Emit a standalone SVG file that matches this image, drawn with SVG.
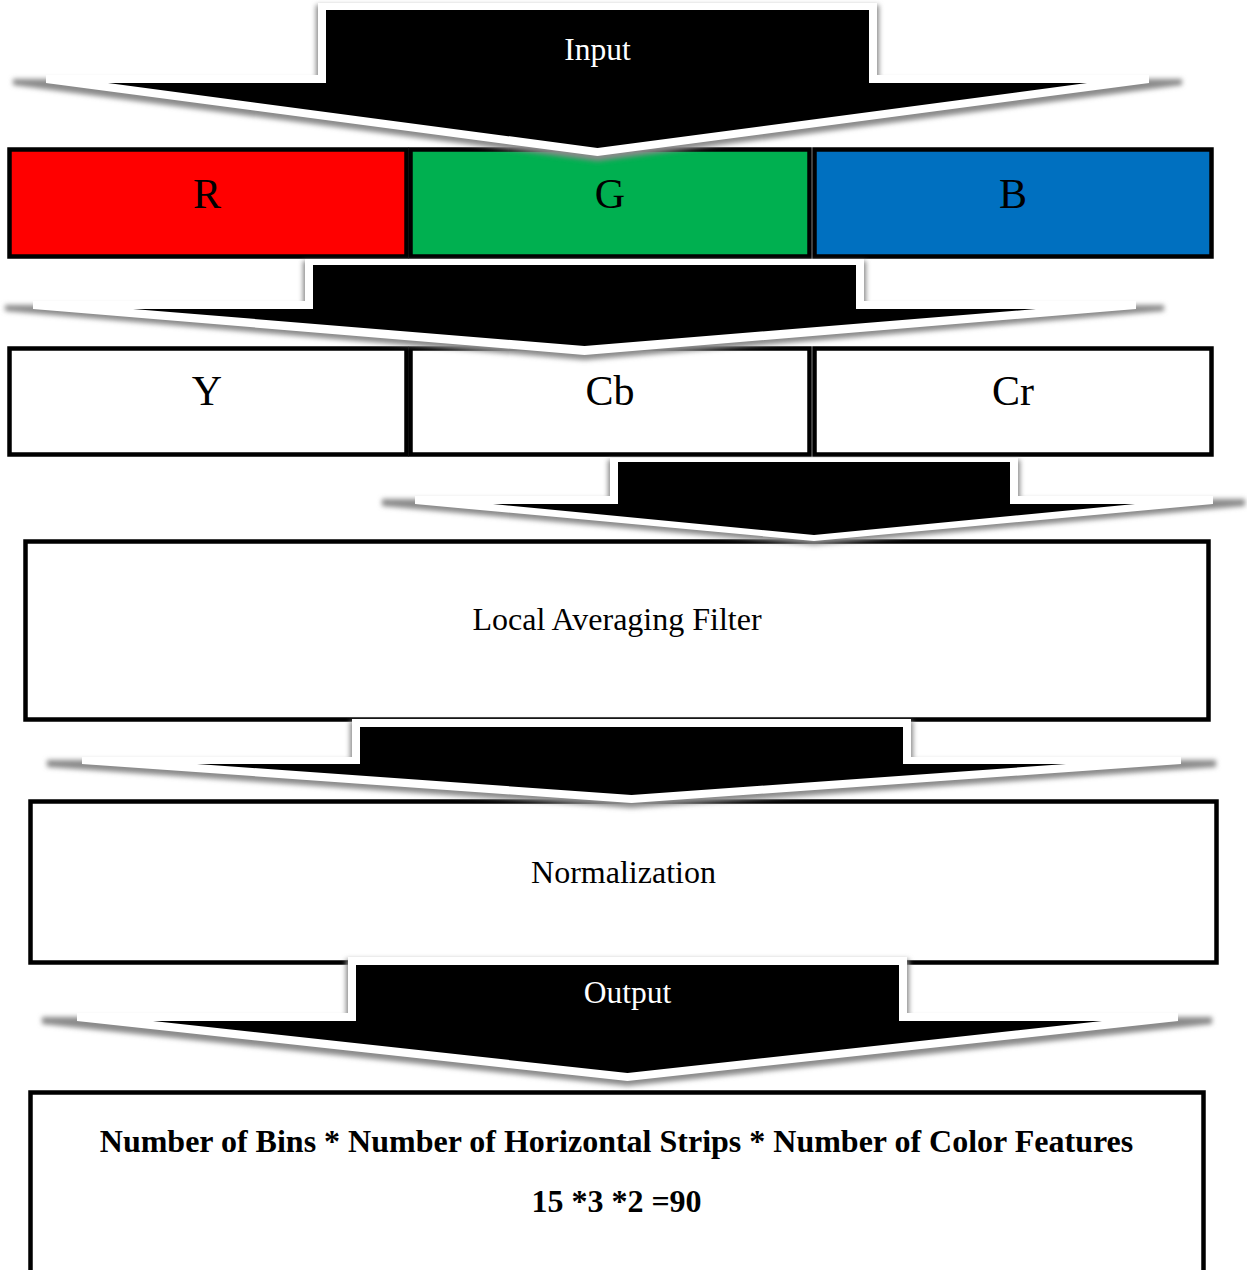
<svg xmlns="http://www.w3.org/2000/svg" width="1247" height="1270" viewBox="0 0 1247 1270">
<defs>
<style>
.box{stroke:#000;stroke-width:4.5}
.big{font-family:"Liberation Serif","Times New Roman",serif;font-size:42px;fill:#000;text-anchor:middle}
.lbl{font-family:"Liberation Serif","Times New Roman",serif;font-size:32px;fill:#000;text-anchor:middle}
.wlbl{font-family:"Liberation Serif","Times New Roman",serif;font-size:31.5px;fill:#fff;text-anchor:middle}
.bold{font-family:"Liberation Serif","Times New Roman",serif;font-size:32px;font-weight:bold;fill:#000;text-anchor:middle}
.shadow{fill:#8a8a8a;filter:url(#blur)}
.outline{fill:#fff}
.body{fill:#000}
</style>
<filter id="blur" x="-10%" y="-50%" width="120%" height="200%">
<feGaussianBlur stdDeviation="2.5"/>
</filter>
</defs>
<rect width="1247" height="1270" fill="#fff"/>

<g id="node-R"><rect class="box" x="9.5" y="149.5" width="397" height="107" fill="#FF0000"/><text class="big" x="207" y="208">R</text></g>
<g id="node-G"><rect class="box" x="410.5" y="149.5" width="399" height="107" fill="#00B050"/><text class="big" x="610" y="208">G</text></g>
<g id="node-B"><rect class="box" x="814.5" y="149.5" width="397" height="107" fill="#0070C0"/><text class="big" x="1013" y="208">B</text></g>

<g id="node-Y"><rect class="box" x="9.5" y="348.5" width="397" height="106" fill="#fff"/><text class="big" x="207" y="405">Y</text></g>
<g id="node-Cb"><rect class="box" x="410.5" y="348.5" width="399" height="106" fill="#fff"/><text class="big" x="610" y="405">Cb</text></g>
<g id="node-Cr"><rect class="box" x="814.5" y="348.5" width="397" height="106" fill="#fff"/><text class="big" x="1013" y="405">Cr</text></g>

<g id="node-filter"><rect class="box" x="25.5" y="541.5" width="1183" height="178" fill="#fff"/><text class="lbl" x="617" y="630">Local Averaging Filter</text></g>
<g id="node-norm"><rect class="box" x="30.5" y="801.5" width="1186" height="161" fill="#fff"/><text class="lbl" x="623.5" y="883">Normalization</text></g>
<g id="node-result"><rect class="box" x="30.5" y="1092.5" width="1173" height="190" fill="#fff"/>
<text class="bold" x="616.5" y="1152">Number of Bins * Number of Horizontal Strips * Number of Color Features</text>
<text class="bold" x="616.5" y="1212">15 *3 *2 =90</text></g>

<g id="connectors">
<g id="arrow-input">
<path class="shadow" d="M13,79 L316,79 L316,5 L879,5 L879,79 L1182,79 L1182,85 L597.5,161 L13,85 Z"/>
<path class="outline" d="M46,75 L318,75 L318,3 L877,3 L877,75 L1149,75 L1149,83 L597.5,156 L46,83 Z"/>
<path class="body" d="M326,10 L869,10 L869,83 L1087,83 L597.5,148 L108,83 L326,83 Z"/>
<text class="wlbl" x="597.5" y="60">Input</text>
</g>
<g id="arrow-rgb-ycbcr">
<path class="shadow" d="M5,305 L303,305 L303,261 L866,261 L866,305 L1164,305 L1164,311 L584.5,360 L5,311 Z"/>
<path class="outline" d="M33,301 L305,301 L305,259 L864,259 L864,301 L1136,301 L1136,309 L584.5,355 L33,309 Z"/>
<path class="body" d="M313,265 L856,265 L856,309 L1036,309 L584.5,346 L133,309 L313,309 Z"/>
</g>
<g id="arrow-ycbcr-filter">
<path class="shadow" d="M382,499 L608,499 L608,460 L1020,460 L1020,499 L1245,499 L1245,506 L814,545 L382,506 Z"/>
<path class="outline" d="M415,496 L610,496 L610,458 L1018,458 L1018,496 L1213,496 L1213,504 L814,541 L415,504 Z"/>
<path class="body" d="M618,462 L1010,462 L1010,504 L1135,504 L814,535 L493,504 L618,504 Z"/>
</g>
<g id="arrow-filter-norm">
<path class="shadow" d="M47,760 L350,760 L350,721 L913,721 L913,760 L1216,760 L1216,767 L631.5,808 L47,767 Z"/>
<path class="outline" d="M82,757 L352,757 L352,719 L911,719 L911,757 L1181,757 L1181,764 L631.5,803 L82,764 Z"/>
<path class="body" d="M360,727 L903,727 L903,764 L1066,764 L631.5,795 L197,764 L360,764 Z"/>
</g>
<g id="arrow-output">
<path class="shadow" d="M42,1017 L346,1017 L346,959 L909,959 L909,1017 L1212,1017 L1212,1024 L627.5,1086 L42,1024 Z"/>
<path class="outline" d="M77,1013 L348,1013 L348,957 L907,957 L907,1013 L1178,1013 L1178,1021 L627.5,1081 L77,1021 Z"/>
<path class="body" d="M356,965 L899,965 L899,1021 L1102,1021 L627.5,1073 L153,1021 L356,1021 Z"/>
<text class="wlbl" x="627.5" y="1003">Output</text>
</g>
</g>
</svg>
